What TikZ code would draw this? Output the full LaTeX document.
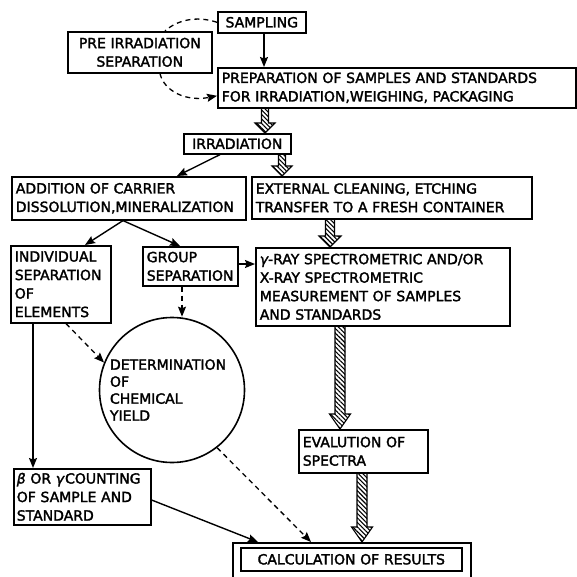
\documentclass[tikz,border=0pt]{standalone}
\usepackage{fontspec}
\newfontfamily\lab{DejaVu Sans}[UprightFeatures={FakeBold=2},ItalicFeatures={FakeBold=2}]
\usetikzlibrary{arrows.meta,calc,patterns.meta}
\newcommand\hatcharrow[5]{% start, end, half shaft, head length, head half width
  \path #1 coordinate (hA) #2 coordinate (hB);
  \draw[line width=1.1pt, line join=miter, pattern={Lines[angle=-45,distance=3.2pt,line width=1.1pt]}]
    ($(hA)+(-#3,0)$) -- ($(hB)+(-#3,-#4)$) -- ($(hB)+(-#5,-#4)$) -- (hB)
    -- ($(hB)+(#5,-#4)$) -- ($(hB)+(#3,-#4)$) -- ($(hA)+(#3,0)$);
}
\begin{document}
\begin{tikzpicture}[x=1pt,y=-1pt,
  box/.style={draw, line width=1.6pt, anchor=north west, inner xsep=4pt, inner ysep=0pt,
    align=left, font=\lab\fontsize{14}{18.5}\selectfont},
  cbox/.style={box, align=center},
  arr/.style={line width=1.4pt, -{Stealth[length=10pt,width=8pt,inset=1.5pt]}},
  dsh/.style={line width=1.3pt, dash pattern=on 5pt off 4pt},
  dsharr/.style={dsh, -{Stealth[length=10pt,width=8pt,inset=1.5pt]}}]
\useasboundingbox (0,0) rectangle (577,577);
\clip (0,0) rectangle (577,577);
\fill[white] (0,0) rectangle (577,577);

\node[cbox, minimum width=88, minimum height=21, text width=80] (samp) at (217,11) {SAMPLING};
\node[cbox, minimum width=144, minimum height=41, text width=136] (pre) at (67,31) {PRE IRRADIATION\\SEPARATION};
\node[box, minimum width=358, minimum height=40, text width=350] (prep) at (217,67) {PREPARATION OF SAMPLES AND STANDARDS\\FOR IRRADIATION,WEIGHING, PACKAGING};
\node[cbox, minimum width=107, minimum height=20, text width=99] (irr) at (183,133) {IRRADIATION};
\node[box, minimum width=234, minimum height=43, text width=226] (add) at (11,176) {ADDITION OF CARRIER\\DISSOLUTION,MINERALIZATION};
\node[box, minimum width=280, minimum height=42, text width=272] (ext) at (251,176) {EXTERNAL CLEANING, ETCHING\\TRANSFER TO A FRESH CONTAINER};
\node[box, minimum width=100, minimum height=77, text width=92] (ind) at (10,245) {INDIVIDUAL\\SEPARATION\\OF\\ELEMENTS};
\node[box, minimum width=95, minimum height=39, text width=87] (grp) at (142,246) {GROUP\\SEPARATION};
\node[box, minimum width=254, minimum height=78, text width=246] (gam) at (255,247) {{\itshape γ}-RAY SPECTROMETRIC AND/OR\\X-RAY SPECTROMETRIC\\MEASUREMENT OF SAMPLES\\AND STANDARDS};
\node[draw, circle, line width=1.6pt, minimum size=145, inner sep=0pt, align=left,
  text width=124, font=\lab\fontsize{14}{17}\selectfont] (det) at (172,390)
  {DETERMINATION\\OF\\CHEMICAL\\YIELD};
\node[box, minimum width=137, minimum height=56, text width=131, inner xsep=3pt] (beta) at (13,468) {{\itshape β} OR {\itshape γ}\hspace{1pt}COUNTING\\OF SAMPLE AND\\STANDARD};
\node[box, minimum width=129, minimum height=43, text width=121] (eva) at (298,429) {EVALUTION OF\\SPECTRA};
\node[box, minimum width=238, minimum height=42] (calco) at (232,542) {};
\node[cbox, minimum width=221, minimum height=23, text width=213] (calc) at (240,547) {CALCULATION OF RESULTS};

% connectors
\draw[arr] (264,0 |- samp.south) -- (264,0 |- prep.north);
\draw[dsh] (samp.west) .. controls (195,15) and (176,21) .. (165,0 |- pre.north);
\draw[dsharr] (160,0 |- pre.south) .. controls (164,91) and (186,102) .. ([yshift=-8pt]prep.west);
\hatcharrow{(265,0 |- prep.south)}{(265,0 |- irr.north)}{3.5}{10}{10}
\draw[arr] (220,0 |- irr.south) -- (177,0 |- add.north);
\hatcharrow{(282,0 |- irr.south)}{(282,0 |- ext.north)}{3.5}{10}{10}
\draw[arr] (123,0 |- add.south) -- (85,0 |- ind.north);
\draw[arr] (123,0 |- add.south) -- (180,0 |- grp.north);
\hatcharrow{(330,0 |- ext.south)}{(330,0 |- gam.north)}{4.5}{11}{11}
\draw[arr] (grp.east |- 0,264) -- (gam.west |- 0,264);
\draw[dsharr] (182,0 |- grp.south) -- (182,0 |- det.north);
\draw[dsharr] (66,0 |- ind.south) -- (det.158);
\draw[arr] (33,0 |- ind.south) -- (33,0 |- beta.north);
\draw[arr] (beta.east |- 0,500) -- (258,0 |- calco.north);
\draw[dsharr] (det.-52) -- (311,0 |- calco.north);
\hatcharrow{(340,0 |- gam.south)}{(340,0 |- eva.north)}{5}{15}{10.5}
\hatcharrow{(362,0 |- eva.south)}{(362,0 |- calco.north)}{5}{15}{10.5}
\end{tikzpicture}
\end{document}
